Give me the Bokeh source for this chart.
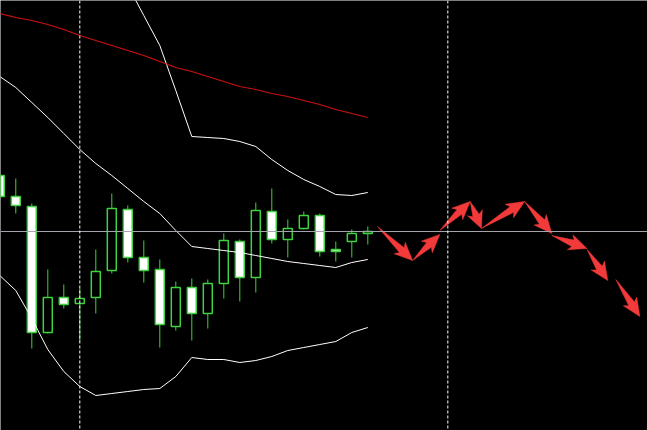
import numpy as np
from bokeh.plotting import figure
from bokeh.models import Span, ColumnDataSource
from bokeh.embed import file_html
from bokeh.resources import INLINE

# ---- data ----
bar_index = list(range(1, 25))
opens = [1.0906, 1.0885, 1.0875, 1.0749, 1.0784, 1.0778, 1.0784, 1.0811, 1.0872, 1.0824, 1.0812, 1.0755,
         1.0794, 1.0768, 1.0798, 1.0840, 1.0804, 1.0870, 1.0842, 1.0853, 1.0866, 1.0832, 1.0840, 1.0848]
closes = [1.0885, 1.0876, 1.0749, 1.0784, 1.0777, 1.0783, 1.0810, 1.0873, 1.0824, 1.0811, 1.0757, 1.0794,
          1.0768, 1.0798, 1.0841, 1.0804, 1.0871, 1.0842, 1.0853, 1.0866, 1.0830, 1.0830, 1.0848, 1.0850]
highs = [1.0909, 1.0903, 1.0878, 1.0812, 1.0797, 1.0793, 1.0832, 1.0888, 1.0876, 1.0841, 1.0822, 1.0800,
         1.0803, 1.0802, 1.0848, 1.0842, 1.0879, 1.0893, 1.0862, 1.0870, 1.0868, 1.0840, 1.0852, 1.0855]
lows = [1.0882, 1.0868, 1.0733, 1.0748, 1.0773, 1.0740, 1.0768, 1.0808, 1.0819, 1.0799, 1.0734, 1.0751,
        1.0741, 1.0753, 1.0783, 1.0780, 1.0789, 1.0838, 1.0824, 1.0852, 1.0825, 1.0820, 1.0824, 1.0837]

bb_upper = [1.1204, 1.1197, 1.1195, 1.1196, 1.1186, 1.1169, 1.1150, 1.1124, 1.1096, 1.1066, 1.1036, 1.0991,
            1.0945, 1.0944, 1.0943, 1.0940, 1.0935, 1.0922, 1.0911, 1.0902, 1.0895, 1.0887, 1.0886, 1.0889]
bb_middle = [1.1005, 1.0994, 1.0979, 1.0964, 1.0948, 1.0932, 1.0918, 1.0906, 1.0893, 1.0880, 1.0868, 1.0851,
             1.0835, 1.0833, 1.0831, 1.0829, 1.0826, 1.0823, 1.0820, 1.0818, 1.0816, 1.0814, 1.0819, 1.0822]
bb_lower = [1.0806, 1.0791, 1.0763, 1.0732, 1.0710, 1.0695, 1.0686, 1.0688, 1.0690, 1.0692, 1.0693, 1.0705,
            1.0724, 1.0722, 1.0722, 1.0719, 1.0721, 1.0725, 1.0731, 1.0734, 1.0737, 1.0740, 1.0749, 1.0754]
ma_slow = [1.1068, 1.1064, 1.1061, 1.1057, 1.1052, 1.1046, 1.1041, 1.1036, 1.1031, 1.1026, 1.1020, 1.1014,
           1.1010, 1.1005, 1.1000, 1.0995, 1.0992, 1.0988, 1.0985, 1.0981, 1.0977, 1.0972, 1.0968, 1.0964]

price_level = 1.0850
separators = [6, 29]

# forecast arrows (start -> end)
fc_x0 = [24.6, 26.8, 28.5, 30.4, 31.1, 33.8, 35.5, 37.7, 39.5]
fc_y0 = [1.0855, 1.0821, 1.0851, 1.0880, 1.0853, 1.0880, 1.0846, 1.0832, 1.0802]
fc_x1 = [26.8, 28.5, 30.4, 31.1, 33.8, 35.5, 37.7, 39.0, 41.0]
fc_y1 = [1.0821, 1.0847, 1.0880, 1.0853, 1.0880, 1.0848, 1.0833, 1.0801, 1.0765]

# ---- figure ----
W, H = 647, 430
XR = (1.044, 41.48)
YR = (1.0651, 1.1081)

p = figure(width=W, height=H, x_range=XR, y_range=YR, output_backend="svg",
           toolbar_location=None, min_border=0, x_axis_location=None, y_axis_location=None,
           background_fill_color="black", border_fill_color="black", outline_line_color=None)
p.grid.visible = False

# horizontal price line
p.add_layout(Span(location=price_level, dimension="width", line_color="#a4a4ac", line_width=1))
# period separators
for s in separators:
    p.add_layout(Span(location=s, dimension="height", line_color="white", line_width=1, line_dash="3 2"))

# candles
green = "#3fd23f"
p.segment(x0=bar_index, y0=highs, x1=bar_index, y1=lows, line_color=green, line_width=1)
bull = [c >= o for o, c in zip(opens, closes)]
src = ColumnDataSource(dict(
    x=bar_index,
    top=[max(o, c) for o, c in zip(opens, closes)],
    bottom=[min(o, c) for o, c in zip(opens, closes)],
    fill=["black" if b else "white" for b in bull],
))
p.vbar(x="x", top="top", bottom="bottom", width=0.56, source=src,
       fill_color="fill", line_color=green, line_width=1.5)

# indicators
p.line(bar_index, bb_upper, line_color="white", line_width=1)
p.line(bar_index, bb_middle, line_color="white", line_width=1)
p.line(bar_index, bb_lower, line_color="white", line_width=1)
p.line(bar_index, ma_slow, line_color="#cc1010", line_width=1.2)

# arrows built in pixel space
sx = W / (XR[1] - XR[0])
sy = H / (YR[1] - YR[0])
xs_all, ys_all = [], []
for a0, b0, a1, b1 in zip(fc_x0, fc_y0, fc_x1, fc_y1):
    px0, py0 = a0 * sx, b0 * sy
    px1, py1 = a1 * sx, b1 * sy
    dx, dy = px1 - px0, py1 - py0
    L = np.hypot(dx, dy)
    ux, uy = dx / L, dy / L
    nx, ny = -uy, ux
    hl = min(15.0, L * 0.48)
    sw, hw = 3.4, 8.0
    pts = [(0, 0), (L - hl, sw), (L - hl - 3.0, hw), (L, 0), (L - hl - 3.0, -hw), (L - hl, -sw)]
    xs, ys = [], []
    for u, v in pts:
        xs.append((px0 + u * ux + v * nx) / sx)
        ys.append((py0 + u * uy + v * ny) / sy)
    xs_all.append(xs)
    ys_all.append(ys)
p.patches(xs_all, ys_all, fill_color="#f23a3a", line_color="#f23a3a", line_width=0.5)

open("out.html", "w").write(file_html(p, INLINE))
